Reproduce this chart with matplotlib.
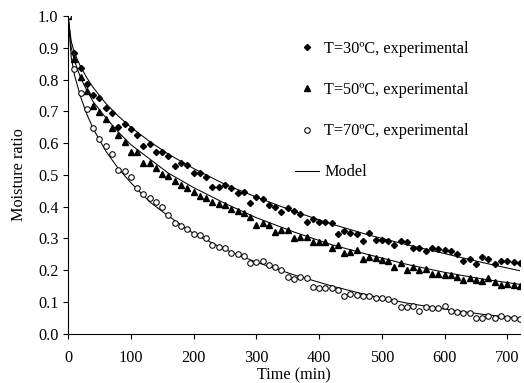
import numpy as np
from matplotlib import pyplot as plt

plt.rcParams['font.family'] = 'Liberation Serif'

# Drying time (min), sampled every 10 min
time = np.arange(0, 721, 10)

# Experimental moisture ratio at each temperature
mr_30 = [1.0, 0.883, 0.835, 0.786, 0.751, 0.741, 0.709, 0.694, 0.652, 0.660,
         0.643, 0.625, 0.592, 0.597, 0.573, 0.573, 0.559, 0.528, 0.536, 0.530,
         0.505, 0.505, 0.494, 0.462, 0.462, 0.468, 0.458, 0.442, 0.447, 0.410,
         0.429, 0.423, 0.405, 0.398, 0.384, 0.395, 0.386, 0.377, 0.351, 0.362,
         0.353, 0.350, 0.349, 0.313, 0.323, 0.318, 0.313, 0.291, 0.317, 0.296,
         0.295, 0.293, 0.279, 0.293, 0.288, 0.269, 0.269, 0.259, 0.271, 0.267,
         0.263, 0.260, 0.251, 0.229, 0.235, 0.219, 0.240, 0.235, 0.219, 0.230,
         0.230, 0.227, 0.222]
mr_50 = [1.0, 0.864, 0.807, 0.765, 0.717, 0.699, 0.676, 0.648, 0.625, 0.604,
         0.573, 0.572, 0.536, 0.536, 0.522, 0.503, 0.495, 0.481, 0.468, 0.460,
         0.446, 0.434, 0.427, 0.414, 0.408, 0.405, 0.392, 0.387, 0.379, 0.368,
         0.342, 0.349, 0.342, 0.321, 0.326, 0.325, 0.300, 0.303, 0.303, 0.290,
         0.290, 0.287, 0.269, 0.279, 0.255, 0.258, 0.263, 0.235, 0.242, 0.237,
         0.232, 0.230, 0.209, 0.222, 0.201, 0.211, 0.201, 0.203, 0.188, 0.188,
         0.185, 0.183, 0.179, 0.169, 0.174, 0.169, 0.167, 0.174, 0.162, 0.153,
         0.156, 0.153, 0.150]
mr_70 = [1.0, 0.832, 0.759, 0.706, 0.646, 0.613, 0.592, 0.565, 0.515, 0.513,
         0.492, 0.458, 0.441, 0.428, 0.416, 0.400, 0.374, 0.349, 0.340, 0.330,
         0.314, 0.310, 0.300, 0.279, 0.274, 0.269, 0.253, 0.252, 0.245, 0.222,
         0.227, 0.229, 0.216, 0.209, 0.201, 0.178, 0.171, 0.179, 0.176, 0.148,
         0.143, 0.143, 0.143, 0.138, 0.119, 0.124, 0.120, 0.119, 0.117, 0.113,
         0.111, 0.108, 0.104, 0.085, 0.085, 0.087, 0.072, 0.085, 0.082, 0.080,
         0.088, 0.071, 0.067, 0.066, 0.064, 0.050, 0.048, 0.054, 0.050, 0.054,
         0.050, 0.048, 0.045]

# Fitted model curves
model_time = [0, 5, 10, 20, 30, 40, 60, 80, 100, 130, 160, 200, 250, 300,
              360, 420, 480, 540, 600, 660, 720]
model_30 = [1.0, 0.92, 0.885, 0.84, 0.805, 0.775, 0.725, 0.685, 0.65, 0.605,
            0.565, 0.52, 0.47, 0.43, 0.385, 0.345, 0.31, 0.28, 0.252, 0.224, 0.198]
model_50 = [1.0, 0.90, 0.86, 0.805, 0.765, 0.73, 0.68, 0.635, 0.595, 0.55,
            0.505, 0.46, 0.41, 0.365, 0.32, 0.28, 0.248, 0.218, 0.193, 0.172, 0.155]
model_70 = [1.0, 0.87, 0.815, 0.745, 0.69, 0.645, 0.575, 0.52, 0.475, 0.415,
            0.37, 0.315, 0.265, 0.225, 0.185, 0.15, 0.12, 0.096, 0.077, 0.061, 0.048]

fs = 11.7

fig = plt.figure(figsize=(5.24, 3.83), dpi=100)
ax = fig.add_axes([0.130, 0.129, 0.862, 0.829])

lw = 0.75
ax.plot(model_time, model_30, color='black', lw=lw)
ax.plot(model_time, model_50, color='black', lw=lw)
model_line, = ax.plot(model_time, model_70, color='black', lw=lw)

p30, = ax.plot(time, mr_30, 'D', color='black', ms=3.1, ls='none')
p50, = ax.plot(time, mr_50, '^', color='black', ms=4.2, ls='none')
p70, = ax.plot(time, mr_70, 'o', mfc='white', mec='black', mew=0.75, ms=4.0, ls='none')

ax.legend([p30, p50, p70, model_line],
          ['T=30ºC, experimental', 'T=50ºC, experimental',
           'T=70ºC, experimental', 'Model'],
          loc='upper left', bbox_to_anchor=(0.502, 0.922), frameon=False,
          fontsize=fs, labelspacing=1.55, handlelength=1.5, handletextpad=0.3,
          borderaxespad=0, borderpad=0)

ax.set_xlim(0, 720)
ax.set_ylim(0, 1.0)
ax.set_xticks(np.arange(0, 701, 100))
ax.set_yticks(np.arange(0, 1.01, 0.1))
ax.set_yticklabels(['%.1f' % v for v in np.arange(0, 1.01, 0.1)])
ax.spines['top'].set_visible(False)
ax.spines['right'].set_visible(False)
ax.tick_params(direction='out', length=3.5, width=0.8, labelsize=fs)
ax.tick_params(axis='x', pad=8)
ax.set_xlabel('Time (min)', size=fs, labelpad=1.5)
ax.set_ylabel('Moisture ratio', size=fs, labelpad=8)

fig.savefig('out.png', dpi=100)
